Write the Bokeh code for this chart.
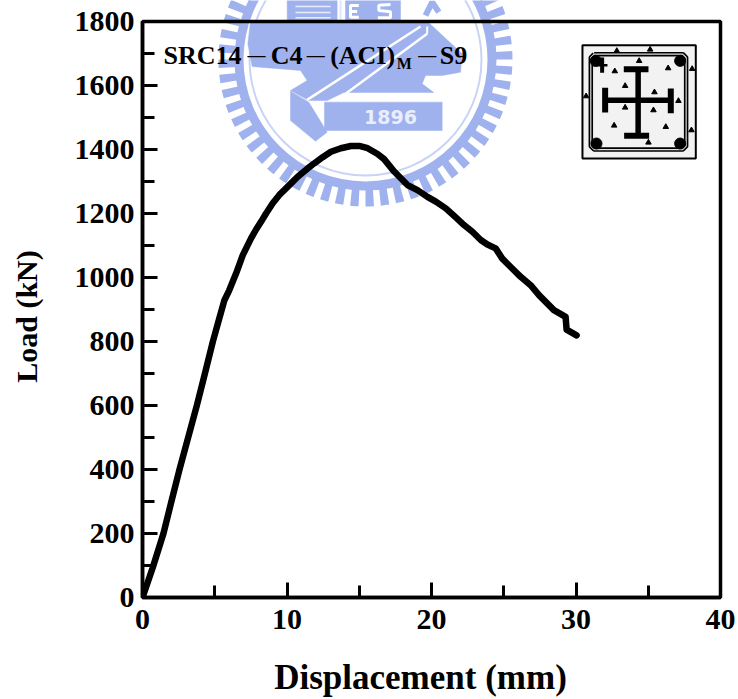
import math
from bokeh.plotting import figure
from bokeh.layouts import column
from bokeh.models import FixedTicker, Range1d
from bokeh.core.properties import value
from bokeh.embed import file_html
from bokeh.resources import INLINE

# ---- chart data ----
displacement = [0, 0.7, 1.45, 2.0, 2.56, 3.16, 3.76, 4.32, 4.87, 5.3, 5.67, 6.0, 6.48, 6.94,
                7.52, 7.86, 8.20, 8.55, 9.01, 9.47, 9.81, 10.28, 10.74, 11.43, 11.89, 12.47, 13.04, 13.73,
                14.42, 15.0, 15.58, 16.27, 16.72, 17.42, 18.34, 19.03, 19.72, 20.3,
                20.99, 21.68, 22.25, 22.83, 23.41, 23.87, 24.44, 24.9, 25.48, 26.17, 26.86, 27.44,
                28.47, 29.28, 29.35, 30.04]
load = [0, 92, 200, 300, 400, 500, 600, 700, 800, 870, 929, 960, 1013, 1070,
        1123, 1150, 1174, 1200, 1232, 1258, 1273, 1294, 1315, 1341, 1357, 1376, 1393, 1404,
        1411, 1411, 1404, 1386, 1370, 1331, 1289, 1273, 1252, 1237,
        1216, 1188, 1164, 1143, 1117, 1103, 1091, 1059, 1033, 1002, 976, 945,
        898, 877, 837, 819]
x_labels = [0, 10, 20, 30, 40]
y_labels = [0, 200, 400, 600, 800, 1000, 1200, 1400, 1600, 1800]
x_minor = [5, 15, 25, 35]
y_minor = [100, 300, 500, 700, 900, 1100, 1300, 1500, 1700]
x_title = "Displacement (mm)"
y_title = "Load (kN)"

W, H = 738, 699
FONT = "Liberation Serif"
BLUE = "#9fb2ee"
BLUE2 = "#c9d4f5"

# ---- background figure: the seal behind the chart, in page pixels ----
bg = figure(width=W, height=H, output_backend="svg", toolbar_location=None,
            x_axis_type=None, y_axis_type=None,
            x_range=Range1d(0, W), y_range=Range1d(H, 0),
            min_border=0, min_border_left=0, min_border_right=0, min_border_top=0, min_border_bottom=0)
bg.frame_align = False
bg.grid.visible = False
bg.outline_line_color = None
bg.background_fill_color = None
bg.border_fill_color = None

CX, CY = 365, 59
def zx(x): return x / 3 + 140
def zy(y): return y / 3
def poly(pts, color=BLUE):
    bg.patch([zx(a) for a, b in pts], [zy(b) for a, b in pts], color=color, line_color=color, line_width=0.5)
def seg(pts, color="white", w=2):
    bg.line([zx(a) for a, b in pts], [zy(b) for a, b in pts], line_color=color, line_width=w)

n = 60
starts = [2 * math.pi * i / n for i in range(n)]
bg.annular_wedge([CX] * n, [CY] * n, inner_radius=129, outer_radius=147,
                 inner_radius_units="screen", outer_radius_units="screen",
                 start_angle=starts, end_angle=[s + 2 * math.pi / n * 0.55 for s in starts],
                 color=BLUE, line_color=None)
bg.annular_wedge([CX], [CY], inner_radius=122, outer_radius=131,
                 inner_radius_units="screen", outer_radius_units="screen",
                 start_angle=0, end_angle=2 * math.pi, color=BLUE, line_color=None)
bg.annular_wedge([CX], [CY], inner_radius=115, outer_radius=117,
                 inner_radius_units="screen", outer_radius_units="screen",
                 start_angle=0, end_angle=2 * math.pi, color=BLUE2, line_color=None)
# books and letters block above the frame
poly([(440, -30), (590, -30), (590, 62), (440, 62)])
for yy in (18, 36, 52):
    seg([(465, yy), (570, yy)], "#e8edfb", 1.5)
seg([(600, -10), (600, 60)], "#dfe6fa", 2)
poly([(615, -30), (780, -30), (780, 62), (615, 62)])
seg([(655, 15), (630, 15), (630, 50), (655, 50)], "white", 3)
seg([(630, 33), (650, 33)], "white", 3)
seg([(750, 12), (715, 14), (715, 30), (750, 34), (750, 52), (712, 52)], "white", 3)
seg([(855, 45), (875, 5), (895, 35)], BLUE, 6)
# main emblem
poly([(330, 62), (860, 62), (965, 160), (960, 215), (905, 225), (855, 225), (845, 250), (880, 276),
      (610, 276), (560, 300), (505, 300), (450, 270), (500, 240), (480, 210), (335, 198), (322, 130)])
# sword hilt
poly([(450, 272), (505, 305), (560, 395), (525, 422), (450, 360)])
seg([(500, 298), (840, 78)], "white", 2.5)
seg([(540, 335), (860, 100)], "white", 2.5)
seg([(860, 100), (860, 78)], "white", 2)
# plate
poly([(552, 305), (905, 305), (905, 390), (552, 390)])
bg.text([zx(750)], [zy(348)], text=["1896"], text_color="#e9eefc", text_align="center",
        text_baseline="alphabetic", text_font=value("DejaVu Sans"), text_font_style="bold",
        text_font_size="19px")

# axis titles, placed in page pixels on the unclipped full-page layer
bg.text([420], [676.5], text=[x_title], text_color="black", text_align="center", text_baseline="alphabetic",
        text_font=value(FONT), text_font_style="bold", text_font_size="35px")
bg.text([26], [316], text=[y_title], text_color="black", text_align="center", text_baseline="alphabetic",
        angle=math.pi / 2, text_font=value(FONT), text_font_style="bold", text_font_size="30px")

# ---- main figure ----
p = figure(width=W, height=H, output_backend="svg", toolbar_location=None,
           x_range=Range1d(0, 40), y_range=Range1d(0, 1800),
           frame_width=578, frame_height=576,
           min_border_left=142, min_border_top=21, min_border_right=18, min_border_bottom=102)
p.frame_align = False
p.background_fill_color = None
p.border_fill_color = None
p.grid.visible = False
p.outline_line_color = "black"
p.outline_line_width = 3.5
p.xaxis.ticker = FixedTicker(ticks=x_labels, minor_ticks=x_minor)
p.yaxis.ticker = FixedTicker(ticks=y_labels, minor_ticks=y_minor)
for ax in (p.xaxis, p.yaxis):
    ax.axis_line_width = 3.5
    ax.major_tick_line_width = 3
    ax.minor_tick_line_width = 3
    ax.major_tick_in = 15
    ax.major_tick_out = 0
    ax.minor_tick_in = 12
    ax.minor_tick_out = 0
    ax.major_label_text_font = FONT
    ax.major_label_text_font_style = "bold"
    ax.major_label_text_font_size = "30px"
    ax.major_label_text_color = "black"
p.xaxis.major_label_standoff = 12
p.yaxis.major_label_standoff = 8

p.line(displacement, load, line_color="black", line_width=6.5, line_join="round", line_cap="round")

# ---- inset section sketch, page pixels mapped to data ----
def dx(px): return (px - 141.7) / 14.45
def dy(py): return (597.3 - py) / 0.32
def ix(z): return dx(560 + z / 3)
def iy(z): return dy(20 + z / 3)
def iline(pts, color="black", w=5, cap="butt"):
    p.line([ix(a) for a, b in pts], [iy(b) for a, b in pts], line_color=color, line_width=w,
           line_join="round", line_cap=cap)

box = [(65, 75), (405, 75), (405, 415), (65, 415)]
p.patch([ix(a) for a, b in box], [iy(b) for a, b in box], fill_color="#f2f2f2", line_color="black", line_width=2)
stir = [(100, 102), (366, 102), (376, 112), (376, 378), (366, 388), (100, 388), (90, 378), (90, 112), (100, 102)]
iline(stir, "black", 4.5)
iline(stir, "#dddddd", 1.2)
for a, b in [(105, 122), (358, 122), (107, 370), (358, 370)]:
    p.scatter([ix(a)], [iy(b)], size=11, color="black", marker="circle")
iline([(232, 148), (232, 348)], "black", 5.5)
iline([(140, 240), (325, 240)], "black", 5.5)
iline([(189, 147), (263, 147)], "black", 6)
iline([(190, 347), (265, 347)], "black", 6)
iline([(133, 203), (133, 277)], "black", 6)
iline([(330, 205), (330, 279)], "black", 6)
iline([(100, 112), (92, 122), (100, 135), (140, 135)], "black", 2.5)
iline([(124, 112), (124, 158)], "black", 4)
agg = [(168, 92), (268, 88), (235, 122), (162, 153), (322, 144), (394, 146), (193, 197), (281, 216),
       (76, 228), (353, 242), (193, 262), (278, 270), (160, 316), (315, 320), (392, 330), (263, 367)]
p.scatter([ix(a) for a, b in agg], [iy(b) for a, b in agg], size=5.5, marker="triangle", color="black")

# ---- specimen label ----
def lab(zxv, py, s, size):
    p.text([dx(140 + zxv / 3)], [dy(py)], text=[s], text_color="black", text_align="left",
           text_baseline="alphabetic", text_font=value(FONT), text_font_style="bold", text_font_size=size)
lab(68, 55.3, "SRC14", "26px")
lab(320, 55, "\u2014", "18px")
lab(390, 55.3, "C4", "26px")
lab(498, 55, "\u2014", "18px")
lab(568, 55.3, "(ACI)", "26px")
lab(768, 63, "M", "16px")
lab(832, 55, "\u2014", "18px")
lab(897, 55.3, "S9", "26px")

p.margin = (-H, 0, 0, 0)
bg.margin = (0, 0, 0, 0)
layout = column(bg, p, spacing=0)
open("out.html", "w").write(file_html(layout, INLINE))
